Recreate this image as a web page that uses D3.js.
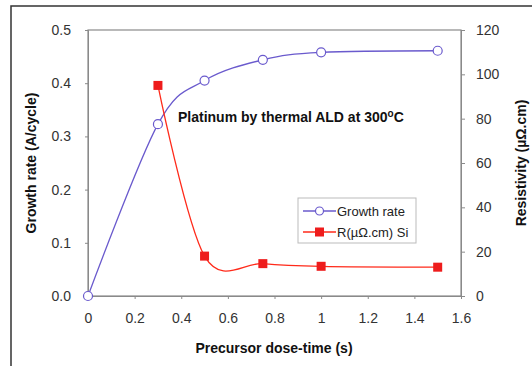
<!DOCTYPE html>
<html><head><meta charset="utf-8">
<script src="https://cdn.jsdelivr.net/npm/d3@7"></script>
<style>body{margin:0;background:#fff}svg{display:block}text{font-family:"Liberation Sans",Arial,sans-serif}</style>
</head><body>
<script>
const doseTime = [0, 0.3, 0.5, 0.75, 1.0, 1.5];
const growthRate = [0, 0.323, 0.405, 0.444, 0.458, 0.461];
const resDose = [0.3, 0.5, 0.75, 1.0, 1.5];
const resistivity = [95, 18, 14.6, 13.4, 13.0];
const xTicks = [0, 0.2, 0.4, 0.6, 0.8, 1, 1.2, 1.4, 1.6];
const yLeftTicks = [0, 0.1, 0.2, 0.3, 0.4, 0.5];
const yRightTicks = [0, 20, 40, 60, 80, 100, 120];

const W = 532, H = 366;
const svg = d3.select("body").append("svg").attr("width", W).attr("height", H);
svg.append("rect").attr("x", 11).attr("y", 6).attr("width", 540).attr("height", 380)
  .attr("fill", "#fff").attr("stroke", "#333").attr("stroke-width", 1.5);

const L = 88, R = 461, T = 30, B = 296;
const x = d3.scaleLinear().domain([0, 1.6]).range([L, R]);
const yL = d3.scaleLinear().domain([0, 0.5]).range([B, T]);
const yR = d3.scaleLinear().domain([0, 120]).range([B, T]);

svg.append("rect").attr("x", L).attr("y", T).attr("width", R - L).attr("height", B - T)
  .attr("fill", "none").attr("stroke", "#8a8a8a").attr("stroke-width", 1.2);

const fmtX = d => d === 0 ? "0" : (Number.isInteger(d) ? String(d) : d.toFixed(1));
const ax = svg.append("g").attr("transform", `translate(0,${B})`)
  .call(d3.axisBottom(x).tickValues(xTicks).tickFormat(fmtX).tickSize(3).tickPadding(14));
const axl = svg.append("g").attr("transform", `translate(${L},0)`)
  .call(d3.axisLeft(yL).tickValues(yLeftTicks).tickFormat(d3.format(".1f")).tickSize(3).tickPadding(14));
const axr = svg.append("g").attr("transform", `translate(${R},0)`)
  .call(d3.axisRight(yR).tickValues(yRightTicks).tickSize(4).tickPadding(11));
[ax, axl, axr].forEach(g => {
  g.select(".domain").attr("stroke", "#8a8a8a");
  g.selectAll(".tick line").attr("stroke", "#8a8a8a");
  g.selectAll(".tick text").attr("font-size", 14).attr("fill", "#333")
    .attr("font-family", "'Liberation Sans',Arial,sans-serif");
});

const curve = d3.curveCardinal.tension(0);
const gr = doseTime.map((d, i) => [d, growthRate[i]]);
const rs = resDose.map((d, i) => [d, resistivity[i]]);

svg.append("path").datum(gr).attr("fill", "none").attr("stroke", "#6a5acd").attr("stroke-width", 1.3)
  .attr("d", d3.line().x(d => x(d[0])).y(d => yL(d[1])).curve(curve));
svg.append("path").datum(rs).attr("fill", "none").attr("stroke", "#ff2a1a").attr("stroke-width", 1.3)
  .attr("d", d3.line().x(d => x(d[0])).y(d => yR(d[1])).curve(curve));

svg.selectAll(".gp").data(gr).join("circle").attr("cx", d => x(d[0])).attr("cy", d => yL(d[1]))
  .attr("r", 4.5).attr("fill", "#fff").attr("stroke", "#6a5acd").attr("stroke-width", 1.2);
svg.selectAll(".rp").data(rs).join("rect").attr("x", d => x(d[0]) - 4.5).attr("y", d => yR(d[1]) - 4.5)
  .attr("width", 9).attr("height", 9).attr("fill", "#ee1c1c");

// legend
const lg = svg.append("g");
lg.append("rect").attr("x", 298).attr("y", 198).attr("width", 118).attr("height", 45)
  .attr("fill", "#fff").attr("stroke", "#bbb").attr("stroke-width", 1);
lg.append("line").attr("x1", 303).attr("x2", 336).attr("y1", 211).attr("y2", 211).attr("stroke", "#6a5acd").attr("stroke-width", 1.3);
lg.append("circle").attr("cx", 319.5).attr("cy", 211).attr("r", 4).attr("fill", "#fff").attr("stroke", "#6a5acd").attr("stroke-width", 1.2);
lg.append("text").attr("x", 337).attr("y", 216).attr("font-size", 13).attr("fill", "#222").text("Growth rate");
lg.append("line").attr("x1", 303).attr("x2", 336).attr("y1", 232).attr("y2", 232).attr("stroke", "#ff2a1a").attr("stroke-width", 1.3);
lg.append("rect").attr("x", 315).attr("y", 227.5).attr("width", 9).attr("height", 9).attr("fill", "#ee1c1c");
lg.append("text").attr("x", 337).attr("y", 237).attr("font-size", 13).attr("fill", "#222").text("R(µΩ.cm) Si");

// annotation
const ann = svg.append("text").attr("x", 178).attr("y", 122).attr("font-size", 14).attr("font-weight", "bold").attr("fill", "#111");
ann.append("tspan").text("Platinum by thermal ALD at 300");
ann.append("tspan").attr("dy", -5).attr("font-size", 10).text("o");
ann.append("tspan").attr("dy", 5).text("C");

// axis titles
svg.append("text").attr("x", 274).attr("y", 353).attr("text-anchor", "middle").attr("font-size", 14)
  .attr("font-weight", "bold").attr("fill", "#111").text("Precursor dose-time (s)");
svg.append("text").attr("transform", "translate(36,163) rotate(-90)").attr("text-anchor", "middle")
  .attr("font-size", 14).attr("font-weight", "bold").attr("fill", "#111").text("Growth rate (A/cycle)");
svg.append("text").attr("transform", "translate(526,163) rotate(-90)").attr("text-anchor", "middle")
  .attr("font-size", 14).attr("font-weight", "bold").attr("fill", "#111").text("Resistivity (µΩ.cm)");
</script>
</body></html>
